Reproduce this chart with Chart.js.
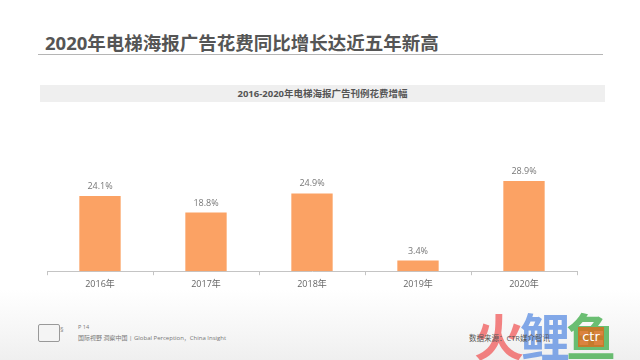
<!DOCTYPE html>
<html>
<head>
<meta charset="utf-8">
<script src="https://cdn.jsdelivr.net/npm/chart.js@4/dist/chart.umd.min.js"></script>
<style>
html,body{margin:0;padding:0;width:640px;height:360px;overflow:hidden;background:#fff;font-family:"Open Sans","Noto Sans CJK SC",sans-serif;}
#bg{position:absolute;left:0;top:290px;width:640px;height:70px;background:linear-gradient(180deg,#fff 0%,#f6f6f6 60%,#efefef 100%);}
#title{position:absolute;left:45px;top:29px;font-size:18.5px;font-weight:bold;color:#555;white-space:nowrap;font-family:"Open Sans","Noto Sans CJK SC",sans-serif;}
#rule{position:absolute;left:38px;top:54px;width:565px;height:1px;background:#b5b5b5;}
#band{position:absolute;left:40px;top:85px;width:565px;height:17px;background:#efefef;}
#sub{position:absolute;left:40px;top:85px;width:565px;height:17px;line-height:17px;text-align:center;font-size:9.5px;font-weight:bold;color:#555;white-space:nowrap;}
#wrap{position:absolute;left:0;top:105px;width:640px;height:189px;}
#logo{position:absolute;left:38px;top:324px;width:20px;height:16px;border:1px solid #999;border-radius:2px;background:#f4f4f4;}
#logo2{position:absolute;left:60px;top:325px;font-size:7px;color:#888;}
#p14{position:absolute;left:78px;top:323px;font-size:5.5px;color:#777;white-space:nowrap;}
#slogan{position:absolute;left:78px;top:333px;font-size:6px;color:#777;white-space:nowrap;}
.wm{position:absolute;top:302px;font-size:50px;font-weight:bold;font-family:"Noto Sans CJK SC",sans-serif;line-height:64px;}
#src{position:absolute;left:469px;top:332px;font-size:7.5px;color:#555;white-space:nowrap;}
#ctr{position:absolute;left:578px;top:327px;width:26px;height:20px;background:rgba(214,110,30,0.85);color:#fff;font-size:13px;line-height:20px;text-align:center;font-family:"DejaVu Sans",sans-serif;}
</style>
</head>
<body>
<div id="bg"></div>
<div id="title">2020年电梯海报广告花费同比增长达近五年新高</div>
<div id="rule"></div>
<div id="band"></div>
<div id="sub">2016-2020年电梯海报广告刊例花费增幅</div>
<div id="wrap"><canvas id="c"></canvas></div>
<div id="logo"></div>
<div id="logo2">§</div>
<div id="p14">P 14</div>
<div id="slogan">国际视野 洞察中国 | Global Perception，China Insight</div>
<div class="wm" style="left:474px;color:rgba(240,90,90,0.75);">火</div>
<div class="wm" style="left:520px;color:rgba(90,140,225,0.75);">鲤</div>
<div class="wm" style="left:566px;color:rgba(70,175,80,0.8);">鱼</div>
<div id="ctr">ctr</div>
<div id="src">数据来源：CTR媒介智讯</div>
<script>
const categories = ["2016年","2017年","2018年","2019年","2020年"];
const growthValues = [24.1, 18.8, 24.9, 3.4, 28.9];
const valueLabels = ["24.1%","18.8%","24.9%","3.4%","28.9%"];

const labelPlugin = {
  id:'valueLabels',
  afterDatasetsDraw(chart){
    const ctx = chart.ctx;
    const meta = chart.getDatasetMeta(0);
    ctx.save();
    ctx.font = '9px "Open Sans", sans-serif';
    ctx.fillStyle = '#777';
    ctx.textAlign = 'center';
    ctx.textBaseline = 'bottom';
    meta.data.forEach((bar,i)=>{
      ctx.fillText(valueLabels[i], bar.x, bar.y - 5);
    });
    ctx.restore();
  }
};

new Chart(document.getElementById('c'), {
  type:'bar',
  data:{
    labels:categories,
    datasets:[{
      data:growthValues,
      backgroundColor:'#FBA264',
      borderWidth:0,
      categoryPercentage:1,
      barPercentage:0.39
    }]
  },
  options:{
    responsive:true,
    maintainAspectRatio:false,
    animation:false,
    layout:{padding:{left:47,right:63,top:10,bottom:0}},
    plugins:{legend:{display:false},tooltip:{enabled:false}},
    scales:{
      x:{
        grid:{drawOnChartArea:false,drawTicks:true,tickLength:4,color:'#c4c4c4'},
        border:{display:true,color:'#c4c4c4'},
        ticks:{color:'#666',font:{size:9,family:'"Open Sans","Noto Sans CJK SC",sans-serif'},padding:4}
      },
      y:{display:false,min:0,max:50}
    }
  },
  plugins:[labelPlugin]
});
</script>
</body>
</html>
